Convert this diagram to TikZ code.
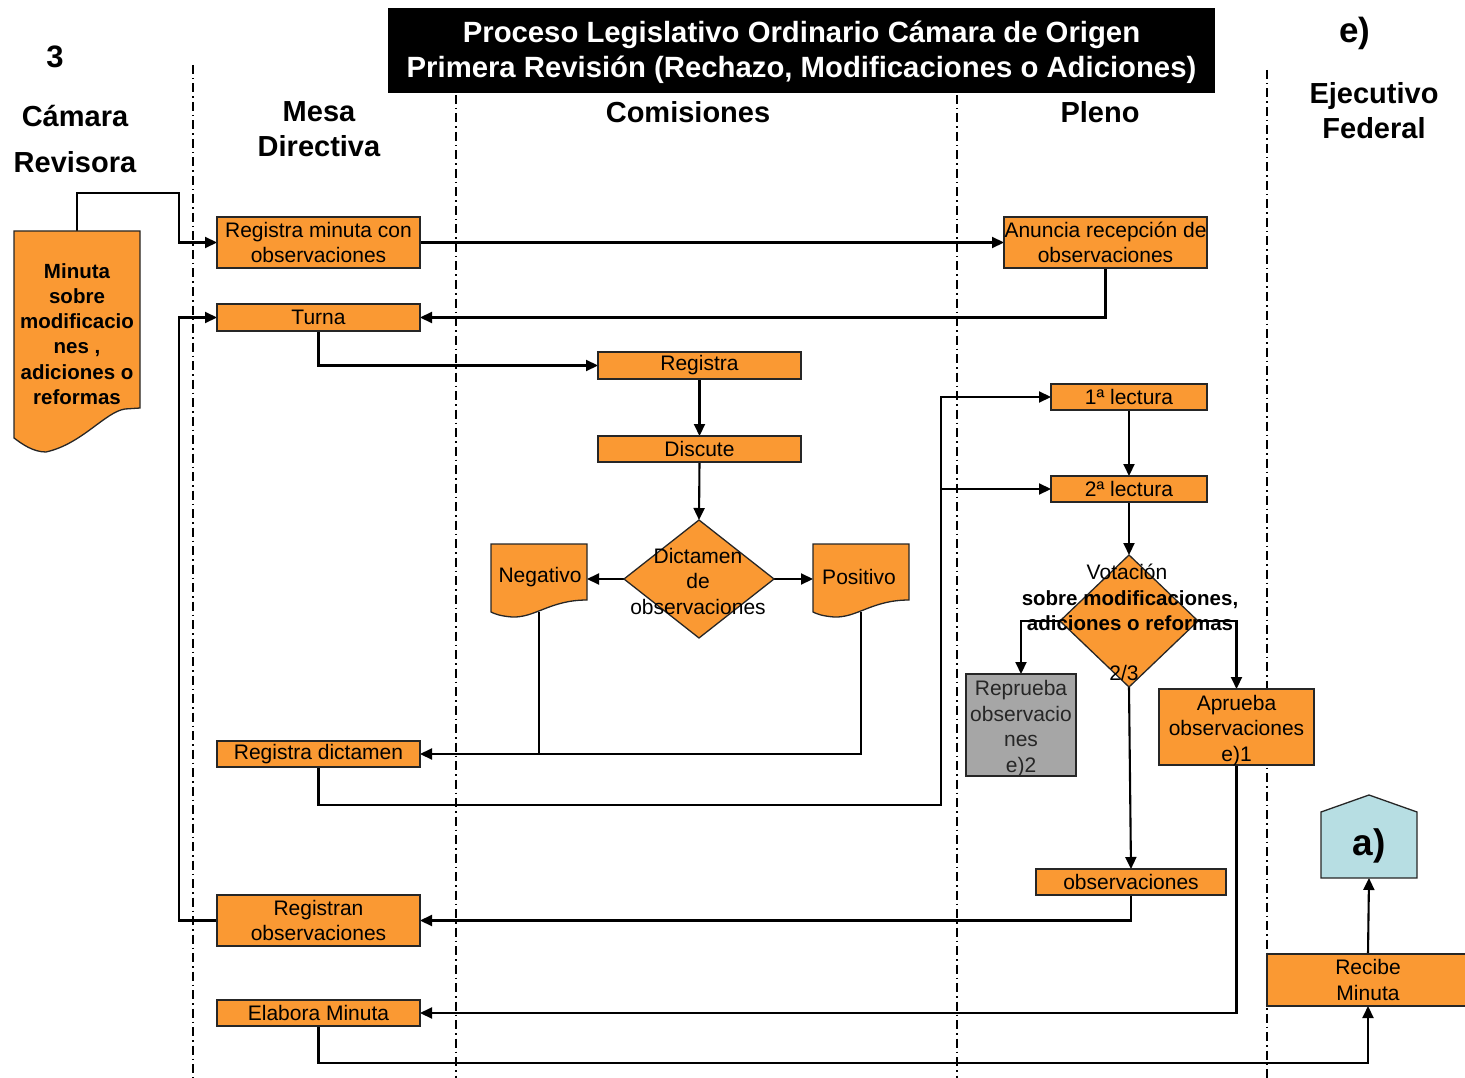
\documentclass[tikz,border=0pt]{standalone}
\usepackage{fontspec}
\setmainfont{Liberation Sans}
\usetikzlibrary{arrows.meta,shapes.geometric}
\definecolor{boxorange}{RGB}{250,153,51}
\definecolor{boxgray}{RGB}{166,166,166}
\definecolor{boxblue}{RGB}{183,222,227}
\pgfdeclarelayer{bg}
\pgfsetlayers{bg,main}

\begin{document}
\begin{tikzpicture}[x=1pt,y=-1pt,
  every node/.style={inner sep=0pt, outer sep=0pt},
  body/.style={font=\fontsize{21}{25.5}\selectfont},
  head/.style={font=\fontsize{29}{35}\selectfont\bfseries, align=center},
  outline/.style={draw=black!85, line width=1.3pt},
  stepbox/.style={outline, fill=boxorange, body, align=center, minimum width=203pt},
  flow/.style={line width=2.1pt, -{Triangle[length=12pt,width=11pt]}},
  link/.style={line width=2.1pt},
  lane/.style={line width=1.2pt, dash pattern=on 9pt off 4pt on 1.5pt off 4pt},
]
\useasboundingbox (0,0) rectangle (1465,1078);

% ---------- title and lane headings ----------
\node[fill=black, minimum width=827pt, minimum height=85pt] (title) at (801.5,50.5) {};
\node[text=white, font=\fontsize{29.3}{35}\selectfont\bfseries, align=center] (titletxt) at (801.5,52.5)
  {Proceso Legislativo Ordinario Cámara de Origen\\Primera Revisión (Rechazo, Modificaciones o Adiciones)};
\node[font=\fontsize{31}{35}\selectfont\bfseries] (num) at (55,57) {3};
\node[head] (hcam1) at (75,116) {Cámara};
\node[head] (hcam2) at (75,162) {Revisora};
\node[head] (hmesa) at (319,129.5) {Mesa\\Directiva};
\node[head] (hcom) at (688,112) {Comisiones};
\node[head] (hpleno) at (1100,112) {Pleno};
\node[font=\fontsize{35}{35}\selectfont\bfseries] (he) at (1355,33) {e)};
\node[head] (hejec) at (1374,110.5) {Ejecutivo\\Federal};

% ---------- Cámara Revisora: document ----------
\path[outline, fill=boxorange] (14,231) -- (140,231) -- (140,408) -- (125,409)
  .. controls (105,412) and (82,444) .. (46,452)
  .. controls (33,452) and (22,444) .. (14,438) -- cycle;
\node[minimum width=126pt, minimum height=178pt] (doc) at (77,320) {};
\node[font=\fontsize{20.5}{25.2}\selectfont\bfseries, align=center] (doctxt) at (77,334)
  {Minuta\\sobre\\modificacio\\nes ,\\adiciones o\\reformas};

% ---------- Mesa Directiva ----------
\node[stepbox, minimum height=51pt] (regmin) at (318.5,242.5) {Registra minuta con\\observaciones};
\node[stepbox, minimum height=27pt] (turna) at (318.5,317.5) {Turna};
\node[stepbox, minimum height=26pt] (regdict) at (318.5,754) {Registra dictamen};
\node[stepbox, minimum height=51pt] (regobs) at (318.5,920.5) {Registran\\observaciones};
\node[stepbox, minimum height=26pt] (elab) at (318.5,1013) {Elabora Minuta};

% ---------- Comisiones ----------
\node[stepbox, minimum height=27pt] (registra) at (699.5,365.5) {Registra};
\node[stepbox, minimum height=26pt] (discute) at (699.5,449) {Discute};
\node[diamond, outline, fill=boxorange, minimum width=150pt, minimum height=118pt] (dict) at (699,579) {};
\node[body, align=center] (dicttxt) at (698,581) {Dictamen\\de\\observaciones};

\path[outline, fill=boxorange] (491,544) -- (587,544) -- (587,600)
  .. controls (550,600) and (535,618) .. (512,617)
  .. controls (500,616) and (495,614) .. (491,612) -- cycle;
\node[minimum width=96pt, minimum height=68pt] (neg) at (539,578) {};
\node[body] (negtxt) at (540,577) {Negativo};

\path[outline, fill=boxorange] (813,544) -- (909,544) -- (909,600)
  .. controls (872,600) and (857,618) .. (834,617)
  .. controls (822,616) and (817,614) .. (813,612) -- cycle;
\node[minimum width=96pt, minimum height=68pt] (pos) at (861,578) {};
\node[body] (postxt) at (859,577) {Positivo};

% ---------- Pleno ----------
\node[stepbox, minimum height=51pt] (anuncia) at (1105.5,242.5) {Anuncia recepción de\\observaciones};
\node[stepbox, minimum width=156pt, minimum height=26pt] (lect1) at (1129,397) {1ª lectura};
\node[stepbox, minimum width=156pt, minimum height=26pt] (lect2) at (1129,489) {2ª lectura};
\node[diamond, outline, fill=boxorange, minimum width=138pt, minimum height=132pt] (vot) at (1129,621) {};
\node[body] (vot1) at (1127,572) {Votación};
\node[font=\fontsize{20.5}{25.5}\selectfont\bfseries, align=center] (vot2) at (1130,610.5)
  {sobre modificaciones,\\adiciones o reformas};
\node[body] (vot3) at (1124,673) {2/3};
\node[outline, fill=boxgray, minimum width=110pt, minimum height=102pt] (reprueba) at (1021,725) {};
\node[body, align=center, text=black!85] (repruebatxt) at (1021,728.5)
  {Reprueba\\observacio\\nes\\e)2};
\node[outline, fill=boxorange, minimum width=155pt, minimum height=76pt] (aprueba) at (1236.5,727) {};
\node[body, align=center] (apruebatxt) at (1236.5,730.5) {Aprueba\\observaciones\\e)1};
\node[stepbox, minimum width=190pt, minimum height=26pt] (obs) at (1131,882) {observaciones};

% ---------- Ejecutivo Federal ----------
\node[stepbox, minimum width=202pt, minimum height=52pt] (recibe) at (1368,980) {Recibe\\Minuta};
\path[outline, fill=boxblue] (1321,812) -- (1369,795) -- (1417,812) -- (1417,878) -- (1321,878) -- cycle;
\node[font=\fontsize{37}{40}\selectfont\bfseries, minimum width=96pt, minimum height=64pt] (apart) at (1369,846) {a)};

% ---------- lane dividers and connectors ----------
\begin{pgfonlayer}{bg}
  \draw[lane] (193,65) -- (193,1078);
  \draw[lane] (456,95) -- (456,1078);
  \draw[lane] (957,95) -- (957,1078);
  \draw[lane] (1267,70) -- (1267,1078);

  \draw[flow] (doc.north) |- ++(102,-38) |- (regmin.west);
  \draw[flow] (regmin.east) -- (anuncia.west);
  \draw[flow] (anuncia.south) |- (turna.east);
  \draw[flow] (turna.south) |- (registra.west);
  \draw[flow] (registra.south) -- (discute.north);
  \draw[flow] (discute.south) -- (dict.north);
  \draw[flow] (dict.west) -- (dict.west -| neg.east);
  \draw[flow] (dict.east) -- (dict.east -| pos.west);
  \draw[flow] (neg.south) |- (regdict.east);
  \draw[link] (pos.south) |- (neg.south |- regdict.east);
  \draw[flow] (regdict.south) |- ++(622.5,38) coordinate (bus) |- (lect1.west);
  \draw[flow] (bus |- lect2.west) -- (lect2.west);
  \draw[flow] (lect1.south) -- (lect2.north);
  \draw[flow] (lect2.south) -- (vot.north);
  \draw[flow] (vot.west) -| (reprueba.north);
  \draw[flow] (vot.east) -| (aprueba.north);
  \draw[flow] (vot.south) -- (obs.north);
  \draw[flow] (obs.south) |- (regobs.east);
  \draw[flow] (regobs.west) -- ++(-38,0) |- (turna.west);
  \draw[flow] (aprueba.south) |- (elab.east);
  \draw[flow] (elab.south) -- ++(0,37) -| (recibe.south);
  \draw[flow] (recibe.north) -- (apart.south);
\end{pgfonlayer}
\end{tikzpicture}
\end{document}
